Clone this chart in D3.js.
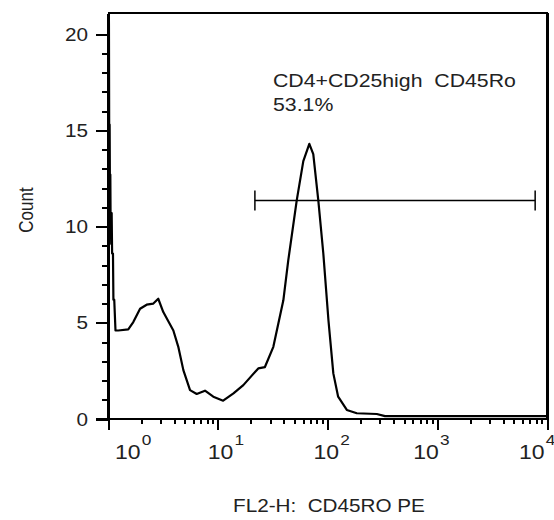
<!DOCTYPE html>
<html>
<head>
<meta charset="utf-8">
<script src="https://cdn.jsdelivr.net/npm/d3@7"></script>
<style>
  body { margin: 0; background: #fff; }
  text { font-family: "Liberation Sans", Arial, sans-serif; fill: #222; white-space: pre; }
  .axis path, .axis line, .frame { shape-rendering: crispEdges; }
</style>
</head>
<body>
<svg id="hist"></svg>
<script>
// histogram: FL2 intensity vs count
const fl2 = [1.00, 1.015, 1.02, 1.025, 1.035, 1.04, 1.05, 1.055, 1.07, 1.08,
  1.09, 1.11, 1.12, 1.14, 1.17, 1.24,
  1.53, 1.70, 1.96, 2.25, 2.59, 2.87, 3.19, 3.94, 4.37, 4.86, 5.59, 6.43, 7.65,
  9.11, 11.2, 13.9, 17.1, 23.4, 26.9, 32.1, 39.6, 43.9, 52.4, 60.2, 68.3, 74.2,
  82.5, 91.6, 102, 113, 125, 150, 185, 281, 334, 358, 10000];
const counts = [22, 22, 20.5, 15.3, 15.3, 12.7, 12.7, 10.7, 9.1, 10.7,
  8.6, 8.6, 6.2, 6.2, 4.6, 4.6,
  4.66, 5.04, 5.73, 5.94, 6.0, 6.25, 5.56, 4.6, 3.75, 2.54, 1.5, 1.3, 1.47,
  1.16, 0.95, 1.33, 1.76, 2.63, 2.7, 3.75, 6.17, 8.24, 11.35, 13.4, 14.3, 13.77,
  11.35, 8.6, 5.13, 2.37, 1.16, 0.47, 0.3, 0.26, 0.15, 0.15, 0.15];

const yTicks = [0, 5, 10, 15, 20];
const xDecades = [1, 10, 100, 1000, 10000];
const gate = { from: 21.8, to: 7800, level: 11.35 };
const gateLabel = "CD4+CD25high  CD45Ro";
const gatePct = "53.1%";
const xTitle = "FL2-H:  CD45RO PE";
const yTitle = "Count";

const W = 554, H = 520;
const margin = { left: 108, right: 7, top: 13, bottom: 101 };
const SX = 1.15; // the picture's text is a bit stretched sideways

const svg = d3.select('#hist').attr('width', W).attr('height', H);

const xScale = d3.scaleLog().domain([1, 10000]).range([margin.left, W - margin.right]);
const yScale = d3.scaleLinear().domain([0, 21.1]).range([H - margin.bottom, margin.top]);

svg.append('clipPath').attr('id', 'plotclip')
  .append('rect')
  .attr('x', margin.left).attr('y', margin.top)
  .attr('width', W - margin.left - margin.right)
  .attr('height', H - margin.top - margin.bottom);

// frame top + right
svg.append('path').attr('class', 'frame')
  .attr('d', `M${margin.left},${margin.top}H${W - margin.right}V${H - margin.bottom}`)
  .attr('fill', 'none').attr('stroke', '#000').attr('stroke-width', 1.5);
svg.append('line').attr('class', 'frame')
  .attr('x1', W - margin.right).attr('x2', W - margin.right)
  .attr('y1', margin.top).attr('y2', H - margin.bottom)
  .attr('stroke', '#000').attr('stroke-width', 3);

// histogram line
const pts = fl2.map((v, i) => [v, counts[i]]);
svg.append('path')
  .datum(pts)
  .attr('clip-path', 'url(#plotclip)')
  .attr('fill', 'none')
  .attr('stroke', '#000')
  .attr('stroke-width', 2.2)
  .attr('stroke-linejoin', 'round')
  .attr('d', d3.line().x(d => xScale(d[0])).y(d => yScale(d[1])));

// y axis: minor every 1, major every 5
const yMinor = d3.axisLeft(yScale).tickValues(d3.range(0, 21)).tickSize(6).tickFormat('');
const yMajor = d3.axisLeft(yScale).tickValues(yTicks).tickSize(12).tickSizeOuter(0).tickFormat('');
const yG1 = svg.append('g').attr('class', 'axis').attr('transform', `translate(${margin.left},0)`).call(yMinor);
const yG2 = svg.append('g').attr('class', 'axis').attr('transform', `translate(${margin.left},0)`).call(yMajor);
yG1.select('.domain').remove();
yG2.select('.domain').attr('stroke', '#000').attr('stroke-width', 2.5);

// x axis: decades long ticks, 2..9 short
const minorX = [];
xDecades.slice(0, -1).forEach(d => { for (let k = 2; k <= 9; k++) minorX.push(d * k); });
const xMinor = d3.axisBottom(xScale).tickValues(minorX).tickSize(5).tickFormat('');
const xMajor = d3.axisBottom(xScale).tickValues(xDecades).tickSize(11).tickFormat('');
const xG1 = svg.append('g').attr('class', 'axis').attr('transform', `translate(0,${H - margin.bottom})`).call(xMinor);
const xG2 = svg.append('g').attr('class', 'axis').attr('transform', `translate(0,${H - margin.bottom})`).call(xMajor);
xG1.select('.domain').remove();
xG2.select('.domain').attr('stroke', '#000').attr('stroke-width', 2)
  .attr('d', `M${margin.left - 12},0H${W - margin.right}`);
svg.selectAll('.tick line').attr('stroke', '#000').attr('stroke-width', 2);

// y tick labels
yTicks.forEach(v => {
  svg.append('text')
    .attr('transform', `translate(88,${yScale(v) + 6.5}) scale(${SX},1)`)
    .attr('text-anchor', 'end')
    .attr('font-size', 18)
    .text(v);
});

// x tick labels 10^n (nudged like the original software did)
const xNudge = [7, -10, -14, -24, -28];
xDecades.forEach((v, i) => {
  const t = svg.append('text')
    .attr('transform', `translate(${xScale(v) + xNudge[i]},459) scale(${SX},1)`)
    .attr('font-size', 20);
  t.append('tspan').text('10');
  t.append('tspan').attr('dy', -14).attr('dx', 1).attr('font-size', 15).text(Math.log10(v));
});

// axis titles
svg.append('text')
  .attr('transform', `translate(33,210) scale(${SX},1) rotate(-90)`)
  .attr('text-anchor', 'middle')
  .attr('font-size', 17)
  .text(yTitle);
svg.append('text')
  .attr('transform', `translate(233,512) scale(${SX},1)`)
  .attr('font-size', 18)
  .text(xTitle);

// gate marker
const gy = yScale(gate.level);
const gG = svg.append('g').attr('stroke', '#000').attr('stroke-width', 1.5);
gG.append('line').attr('x1', xScale(gate.from)).attr('x2', xScale(gate.to)).attr('y1', gy).attr('y2', gy);
[gate.from, gate.to].forEach(v => {
  gG.append('line').attr('x1', xScale(v)).attr('x2', xScale(v)).attr('y1', gy - 10).attr('y2', gy + 10);
});

svg.append('text')
  .attr('transform', `translate(273,87) scale(${SX},1)`)
  .attr('font-size', 18.5)
  .text(gateLabel);
svg.append('text')
  .attr('transform', `translate(273,111) scale(${SX},1)`)
  .attr('font-size', 18.5)
  .text(gatePct);
</script>
</body>
</html>
